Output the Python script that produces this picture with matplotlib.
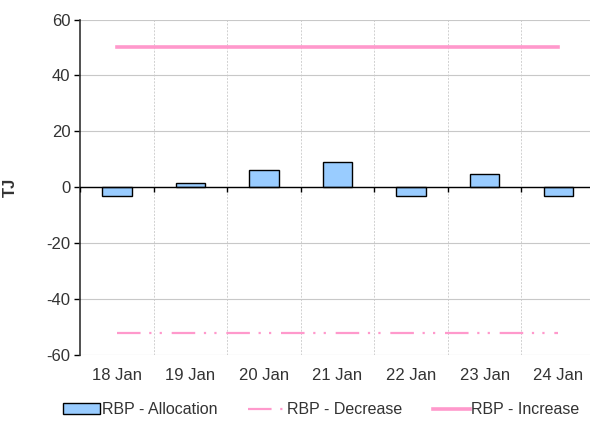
import matplotlib
matplotlib.use("Agg")
import matplotlib.pyplot as plt
import numpy as np

# data
days = ["18 Jan", "19 Jan", "20 Jan", "21 Jan", "22 Jan", "23 Jan", "24 Jan"]
allocation = [-3.0, 1.5, 6.0, 9.1, -3.1, 4.9, -3.0]
decrease = [-52, -52, -52, -52, -52, -52, -52]
increase = [50, 50, 50, 50, 50, 50, 50]
y_ticks = [-60, -40, -20, 0, 20, 40, 60]


def main():
    plt.rcParams["font.family"] = ["Liberation Sans", "DejaVu Sans"]
    plt.rcParams["axes.unicode_minus"] = False
    fig = plt.figure(figsize=(5.9, 4.21), dpi=100)
    ax = fig.add_axes([80 / 590, 66 / 421, 515 / 590, 335.5 / 421])

    x = np.arange(len(days)) + 0.5

    # light grid
    ax.set_axisbelow(True)
    ax.yaxis.grid(True, color="#c8c8c8", linewidth=0.8)
    ax.vlines(np.arange(1, len(days)), -60, 60, colors="#d0d0d0",
              linestyles=(0, (2, 1.5)), linewidth=0.7, zorder=0)

    ax.bar(x, allocation, width=0.4, color="#99ccff", edgecolor="black",
           linewidth=1.0, label="RBP - Allocation", zorder=3)
    ax.plot(x, decrease, color="#ff99cc", linewidth=1.6,
            dashes=(10.6, 3.9, 1, 3.7, 1, 4.4), label="RBP - Decrease",
            zorder=4)
    ax.plot(x, increase, color="#ff99cc", linewidth=2.6,
            label="RBP - Increase", zorder=4)

    # zero axis with small ticks at category edges
    ax.axhline(0, color="black", linewidth=1.0, zorder=5)
    ax.plot(np.arange(0, len(days) + 1), np.zeros(len(days) + 1),
            linestyle="none", marker=3, markersize=3.5, color="black",
            markeredgewidth=1.0, zorder=5)

    ax.set_xlim(0, len(days))
    ax.set_ylim(-60, 60)
    ax.set_xticks(x)
    ax.set_xticklabels(days)
    ax.set_yticks(y_ticks)
    ax.tick_params(axis="x", length=0, pad=9, labelsize=12,
                   labelcolor="#333333")
    ax.tick_params(axis="y", length=4, width=1, direction="out", pad=3,
                   labelsize=12, labelcolor="#333333")

    for side in ["top", "right", "bottom"]:
        ax.spines[side].set_visible(False)
    ax.spines["left"].set_color("#333333")
    ax.spines["left"].set_linewidth(1.2)

    ax.set_ylabel("TJ", fontsize=12, fontweight="bold", color="#333333")
    ax.yaxis.set_label_coords(-0.12, 0.5)

    handles, labels = ax.get_legend_handles_labels()
    order = [2, 0, 1]
    leg = fig.legend([handles[i] for i in order], [labels[i] for i in order],
                     loc="lower center", bbox_to_anchor=(0.545, -0.025),
                     ncol=3, frameon=False, fontsize=11.5, handlelength=2.3,
                     handletextpad=0.1, columnspacing=1.95)
    for t in leg.get_texts():
        t.set_color("#333333")

    fig.savefig("out.png", dpi=100)


if __name__ == "__main__":
    main()
